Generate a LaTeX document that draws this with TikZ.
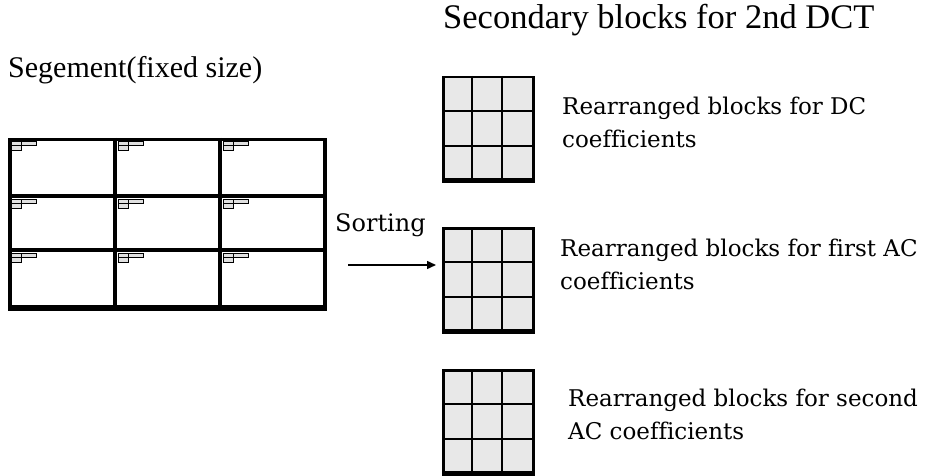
\documentclass[tikz,border=0pt]{standalone}
\usepackage{fontspec}
\setmainfont[Ligatures=NoCommon]{DejaVu Serif}
\newfontfamily\titlefont{Liberation Serif}
\usetikzlibrary{arrows.meta,positioning}

\begin{document}
\begin{tikzpicture}[x=1pt,y=-1pt,
      segframe/.style={draw=black,line width=3.5pt,minimum width=315pt,minimum height=169pt,anchor=north west,inner sep=0pt},
      segline/.style={line width=3.5pt},
      tabmark/.style={draw=black,line width=0.9pt,fill=black!12},
      blockbox/.style={draw=black,line width=2.5pt,fill=black!9,minimum width=90pt,minimum height=104pt,anchor=north west,inner sep=0pt},
      blockline/.style={line width=2.5pt},
      desc/.style={anchor=west,align=left,inner sep=0pt,font=\fontsize{23}{33}\selectfont},
      heading/.style={anchor=west,inner sep=0pt,font=\titlefont\fontsize{30}{36}\selectfont},
      arrow/.style={-{Triangle[length=9pt,width=8pt]},line width=1.5pt},
      >=Latex
    ]
    \useasboundingbox (0,0) rectangle (926,476);

    % Titles
    \node[heading] (segtitle) at (8,70) {Segement(fixed size)};
    \node[heading,font=\titlefont\fontsize{34.5}{40}\selectfont] (sectitle) at (443,20) {Secondary blocks for 2nd DCT};

    % Segment of 3x3 blocks
    \node[segframe] (seg) at (8,138) {};
    \draw[segline] (115,138) -- (115,307);
    \draw[segline] (220,138) -- (220,307);
    \draw[segline] (8,196) -- (323,196);
    \draw[segline] (8,250) -- (323,250);
    \draw[line width=4.5pt] (8,307) -- (323,307);
    \foreach \cx in {8,115,220} {
      \foreach \cy in {138,196,250} {
        \draw[tabmark] (\cx+3,\cy+3) rectangle (\cx+13,\cy+7.5);
        \draw[tabmark] (\cx+3,\cy+7.5) rectangle (\cx+13,\cy+12);
        \draw[tabmark] (\cx+13,\cy+3) rectangle (\cx+28,\cy+7.5);
      }
    }

    % Sorting
    \node[desc,font=\fontsize{24}{30}\selectfont] (sortlbl) at (335,225) {Sorting};
    \coordinate (sortstart) at (348,265);

    % Secondary blocks
    \foreach \name/\yy in {dcblk/76,acblk/227,acblkb/369} {
      \node[blockbox] (\name) at (442,\yy) {};
      \foreach \i in {1,2} {
        \draw[blockline] (442+30*\i,\yy) -- (442+30*\i,\yy+104);
        \draw[blockline] (442,\yy+35*\i) -- (532,\yy+35*\i);
      }
      \draw[line width=4pt] (442,\yy+104) -- (532,\yy+104);
    }

    \draw[arrow,shorten >=6pt] (sortstart) -- (sortstart -| acblk.west);

    % Annotation
    \node[desc] (dclbl) at (562,122) {Rearranged blocks for DC\\coefficients};
    \node[desc] (aclbl) at (560,264) {Rearranged blocks for first AC\\coefficients};
    \node[desc] (acblbl) at (568,414) {Rearranged blocks for second\\AC coefficients};

  \end{tikzpicture}
\end{document}
